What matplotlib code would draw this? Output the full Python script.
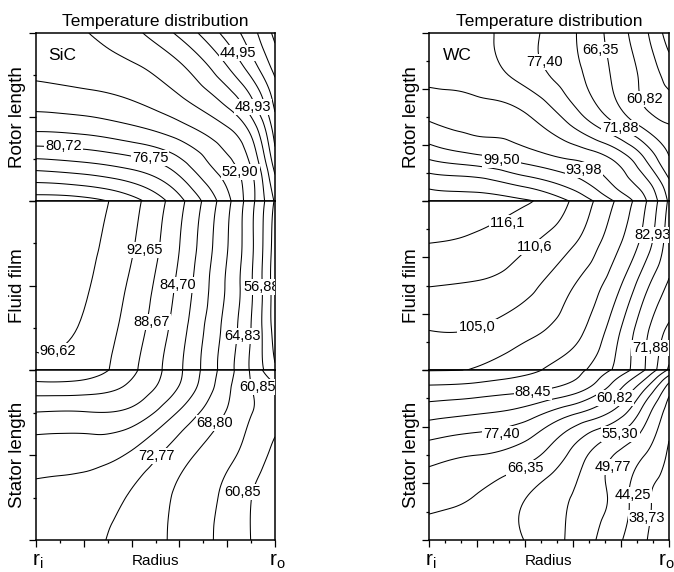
import numpy as np
import matplotlib
matplotlib.use("Agg")
import matplotlib.pyplot as plt
import matplotlib.tri as mtri
from matplotlib.ticker import FixedLocator

plt.rcParams['font.family'] = ['Liberation Sans', 'DejaVu Sans']

# ---------------- data (temperature) ----------------
# normalised radius nodes (r_i -> r_o) and height nodes (0 bottom -> 1 top)
x_nodes = [0.0, 0.2, 0.4, 0.6, 0.8, 0.9, 1.0]

sic_levels = [33.03, 37.00, 40.98, 44.95, 48.93, 52.90, 56.88, 60.85, 64.83,
              68.80, 72.77, 76.75, 80.72, 84.70, 88.67, 92.65, 96.62, 100.6]
wc_levels = [27.68, 33.20, 38.73, 44.25, 49.77, 55.30, 60.82, 66.35, 71.88,
             77.40, 82.93, 88.45, 93.98, 99.50, 105.0, 110.6, 116.1, 121.6]

# SiC rotor
sic_rotor_y = [0.0, 0.2, 0.4, 0.6, 0.8, 1.0]
sic_rotor_T = [
    [98.6, 98.0, 94.2, 85.9, 73.9, 66.2, 56.4],
    [87.6, 86.4, 84.1, 78.9, 70.4, 64.8, 51.7],
    [77.3, 76.6, 74.7, 71.4, 66.1, 60.5, 47.6],
    [71.1, 70.3, 68.8, 65.5, 59.5, 53.5, 43.7],
    [67.5, 66.7, 65.3, 61.5, 53.0, 46.9, 39.6],
    [65.6, 65.0, 62.0, 56.0, 47.5, 42.6, 36.0],
]
# SiC fluid film
sic_fluid_y = [0.0, 0.25, 0.5, 0.75, 1.0]
sic_fluid_T = [
    [95.8, 95.0, 89.6, 81.4, 70.5, 64.3, 57.5],
    [97.3, 96.2, 90.8, 82.5, 71.3, 64.8, 55.2],
    [98.3, 97.1, 91.9, 83.7, 72.2, 65.3, 54.8],
    [99.0, 97.8, 93.1, 84.8, 73.0, 65.7, 55.2],
    [99.5, 98.5, 94.0, 85.9, 73.9, 66.2, 56.4],
]
# SiC stator
sic_stator_y = [0.0, 0.25, 0.5, 0.75, 0.9, 1.0]
sic_stator_T = [
    [75.0, 73.8, 71.2, 67.9, 63.4, 60.8, 58.5],
    [75.8, 75.0, 72.3, 68.1, 63.8, 60.9, 58.8],
    [78.5, 78.2, 76.1, 70.4, 65.8, 63.0, 59.8],
    [84.6, 84.5, 83.6, 76.3, 68.5, 65.0, 62.5],
    [91.1, 90.8, 87.8, 80.5, 69.7, 64.9, 61.5],
    [95.8, 95.0, 89.6, 81.4, 70.5, 64.3, 56.5],
]
# WC rotor
wc_rotor_y = [0.0, 0.1, 0.25, 0.5, 0.75, 1.0]
wc_rotor_T = [
    [119.0, 117.8, 116.8, 109.8, 97.6, 89.2, 76.5],
    [114.6, 113.5, 109.2, 102.7, 91.8, 85.3, 73.5],
    [104.8, 101.5, 97.6, 93.7, 86.0, 77.4, 66.8],
    [93.2, 91.1, 89.2, 80.2, 68.2, 62.5, 59.5],
    [87.0, 86.0, 80.8, 73.7, 64.2, 59.2, 53.2],
    [85.5, 84.3, 79.3, 72.5, 62.5, 56.4, 47.0],
]
# WC fluid film
wc_fluid_y = [0.0, 0.25, 0.5, 0.75, 1.0]
wc_fluid_T = [
    [100.8, 99.0, 95.5, 90.4, 80.3, 71.9, 60.0],
    [105.3, 105.0, 101.5, 96.3, 83.0, 73.5, 65.5],
    [110.8, 110.0, 106.9, 99.7, 88.5, 79.0, 71.0],
    [116.1, 115.0, 111.5, 105.5, 94.0, 86.0, 74.5],
    [118.5, 117.8, 116.8, 109.8, 97.6, 89.2, 76.5],
]
# WC stator
wc_stator_y = [0.0, 0.25, 0.5, 0.75, 0.9, 1.0]
wc_stator_T = [
    [64.0, 63.0, 60.7, 53.9, 44.6, 39.2, 35.5],
    [68.0, 66.0, 61.0, 55.0, 46.5, 40.0, 36.5],
    [74.0, 71.9, 68.7, 59.2, 48.5, 44.2, 37.8],
    [85.2, 83.5, 80.6, 73.0, 63.0, 52.5, 41.5],
    [93.3, 92.3, 90.4, 86.4, 72.5, 62.0, 47.5],
    [99.8, 99.0, 95.5, 90.4, 80.3, 71.9, 60.0],
]

# contour label values per region
sic_rotor_lab = [44.95, 48.93, 52.90, 76.75, 80.72]
sic_fluid_lab = [92.65, 84.70, 88.67, 56.88, 64.83, 96.62]
sic_stator_lab = [60.85, 68.80, 72.77, 60.85]
wc_rotor_lab = [66.35, 77.40, 60.82, 71.88, 99.50, 93.98]
wc_fluid_lab = [116.1, 110.6, 105.0, 82.93, 71.88]
wc_stator_lab = [88.45, 60.82, 77.40, 55.30, 66.35, 49.77, 44.25, 38.73]

# label placement (axes fractions)
sic_rotor_pos = [(0.845, 0.88), (0.908, 0.56), (0.854, 0.173), (0.477, 0.256), (0.117, 0.327)]
sic_fluid_pos = [(0.456, 0.71), (0.594, 0.503), (0.485, 0.284), (0.946, 0.491), (0.862, 0.201), (0.092, 0.112)]
sic_stator_pos = [(0.925, 0.90), (0.749, 0.688), (0.506, 0.494), (0.866, 0.282)]
wc_rotor_pos = [(0.7125, 0.899), (0.483, 0.827), (0.90, 0.607), (0.796, 0.435), (0.304, 0.244), (0.646, 0.185)]
wc_fluid_pos = [(0.329, 0.87), (0.442, 0.728), (0.20, 0.254), (0.933, 0.80), (0.921, 0.13)]
wc_stator_pos = [(0.433, 0.871), (0.775, 0.835), (0.304, 0.624), (0.796, 0.624),
                 (0.40, 0.424), (0.767, 0.43), (0.85, 0.265), (0.908, 0.13)]


def fmt(v):
    s = f"{v:.1f}" if v >= 100 else f"{v:.2f}"
    return s.replace('.', ',')


def draw_field(ax, ys, T, levels, labs, pos):
    X, Y = np.meshgrid(np.array(x_nodes), np.array(ys))
    Z = np.array(T, dtype=float).ravel()
    tri = mtri.Triangulation(X.ravel(), Y.ravel())
    interp = mtri.CubicTriInterpolator(tri, Z, kind='min_E')
    refiner = mtri.UniformTriRefiner(tri)
    tri_r, z_r = refiner.refine_field(Z, triinterpolator=interp, subdiv=4)
    ax.tricontour(tri_r, z_r, levels=levels, colors='k', linewidths=0.75)
    for v, (px, py) in zip(labs, pos):
        ax.text(px, py, fmt(v), ha='center', va='center', fontsize=10.5,
                transform=ax.transAxes, clip_on=True, zorder=5,
                bbox=dict(boxstyle='square,pad=0.08', fc='white', ec='none'))
    ax.set_xlim(0, 1)
    ax.set_ylim(0, 1)


W, H = 674, 572
fig = plt.figure(figsize=(W / 100, H / 100), dpi=100)


def fx(px):
    return px / W


def fy(py):
    return 1 - py / H


panels = [
    dict(x0=36, x1=275, name='SiC', levels=sic_levels,
         regions=[(sic_rotor_y, sic_rotor_T, sic_rotor_lab, sic_rotor_pos),
                  (sic_fluid_y, sic_fluid_T, sic_fluid_lab, sic_fluid_pos),
                  (sic_stator_y, sic_stator_T, sic_stator_lab, sic_stator_pos)],
         ymaj=[0, 0.5, 1], ymin=[0.25, 0.75], xmin=[k / 10 for k in range(1, 10, 2)]),
    dict(x0=429, x1=669, name='WC', levels=wc_levels,
         regions=[(wc_rotor_y, wc_rotor_T, wc_rotor_lab, wc_rotor_pos),
                  (wc_fluid_y, wc_fluid_T, wc_fluid_lab, wc_fluid_pos),
                  (wc_stator_y, wc_stator_T, wc_stator_lab, wc_stator_pos)],
         ymaj=[0, 1 / 3, 2 / 3, 1], ymin=[1 / 6, 0.5, 5 / 6],
         xmin=[k / 15 for k in range(1, 15) if k % 3]),
]
bands = [(33, 201), (201, 370), (370, 540)]
ylabels = ['Rotor length', 'Fluid film', 'Stator length']

for p in panels:
    for i, ((top, bot), reg) in enumerate(zip(bands, p['regions'])):
        ax = fig.add_axes([fx(p['x0']), fy(bot), fx(p['x1'] - p['x0']), (bot - top) / H])
        draw_field(ax, *reg[:2], p['levels'], reg[2], reg[3])
        for s in ax.spines.values():
            s.set_linewidth(1.1)
        ax.yaxis.set_major_locator(FixedLocator(p['ymaj']))
        ax.yaxis.set_minor_locator(FixedLocator(p['ymin']))
        ax.tick_params(axis='y', which='major', direction='out', length=5, width=0.9, labelleft=False)
        ax.tick_params(axis='y', which='minor', direction='out', length=2.5, width=0.9)
        if i == 2:
            ax.xaxis.set_major_locator(FixedLocator([0, 0.2, 0.4, 0.6, 0.8, 1.0]))
            ax.xaxis.set_minor_locator(FixedLocator(p['xmin']))
            ax.tick_params(axis='x', which='major', direction='out', length=5, width=0.9, labelbottom=False)
            ax.tick_params(axis='x', which='minor', direction='out', length=2.5, width=0.9)
        else:
            ax.set_xticks([])
        if i == 0:
            ax.text(0.05 if p['name'] == 'SiC' else 0.058, 0.84, p['name'], transform=ax.transAxes,
                    fontsize=12.5, va='baseline', ha='left')
        fig.text(fx(p['x0'] - 18), fy((top + bot) / 2), ylabels[i], rotation=90,
                 ha='center', va='center', fontsize=13.5)
    cx = (p['x0'] + p['x1']) / 2
    fig.text(fx(cx), fy(26), 'Temperature distribution', ha='center', va='baseline', fontsize=12.5)
    fig.text(fx(cx), fy(565), 'Radius', ha='center', va='baseline', fontsize=11)
    fig.text(fx(p['x0'] + 2), fy(566), r'$\mathregular{r_i}$', ha='center', va='baseline', fontsize=15)
    fig.text(fx(min(p['x1'] + 2, 666)), fy(566), r'$\mathregular{r_o}$', ha='center', va='baseline', fontsize=15)

fig.savefig('out.png', dpi=100)
